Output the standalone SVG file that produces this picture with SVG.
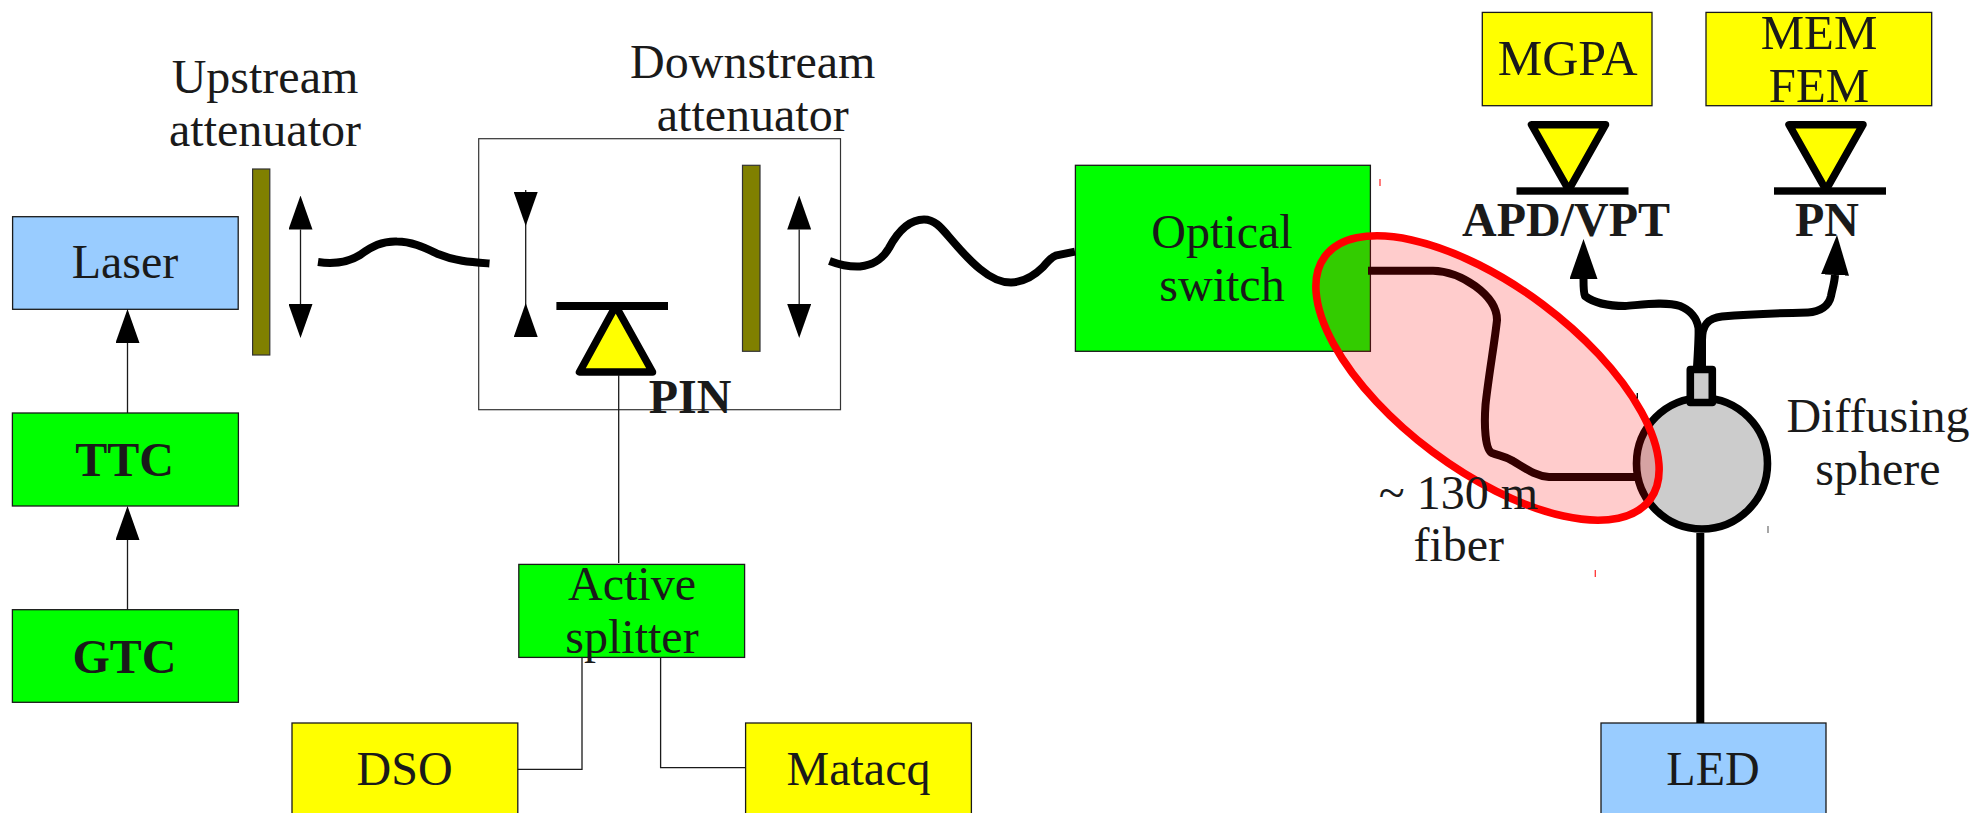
<svg xmlns="http://www.w3.org/2000/svg" width="1978" height="813" viewBox="0 0 1978 813">
<defs>
<style>
text{font-family:"Liberation Serif","Times New Roman",serif;font-size:48px;fill:#1a1a1a;text-anchor:middle}
.b{font-weight:bold}
.big{font-size:50px}
.mid{font-size:48.8px}
.box{stroke:#1a1a1a;stroke-width:1.3}
.blue{fill:#99ccff}.green{fill:#00ff00}.yellow{fill:#ffff00}
.bar{fill:#808000;stroke:#333;stroke-width:1.2}
.thin{fill:none;stroke:#1a1a1a;stroke-width:1.3}
.fib{fill:none;stroke:#000;stroke-width:8}
.pd{fill:#ffff00;stroke:#000;stroke-width:7.5;stroke-linejoin:round}
.pdbar{fill:#000}
.tick{stroke-width:1.3;fill:none}
</style>
<marker id="head" markerUnits="userSpaceOnUse" markerWidth="34" markerHeight="24" refX="0" refY="12" orient="auto-start-reverse" viewBox="0 0 34 24"><path d="M0 0L34 12L0 24Z" fill="#000"/></marker>
<marker id="headIn" markerUnits="userSpaceOnUse" markerWidth="34" markerHeight="24" refX="0" refY="12" orient="auto" viewBox="0 0 34 24"><path d="M0 0L34 12L0 24Z" fill="#000"/></marker>
<marker id="headBack" markerUnits="userSpaceOnUse" markerWidth="34" markerHeight="24" refX="34" refY="12" orient="auto" viewBox="0 0 34 24"><path d="M34 0L0 12L34 24Z" fill="#000"/></marker>
<marker id="bigHead" markerUnits="userSpaceOnUse" markerWidth="40" markerHeight="28" refX="0" refY="14" orient="auto" viewBox="0 0 40 28"><path d="M0 0L40 14L0 28Z" fill="#000"/></marker>
</defs>
<rect width="1978" height="813" fill="#fff"/>
<g id="downstream-box"><rect x="478.7" y="138.7" width="361.8" height="271" fill="none" stroke="#333" stroke-width="1.2"/></g>
<g id="upstream-attenuator"><rect class="bar" x="252.6" y="169" width="17.2" height="186"/><text x="265" y="93">Upstream</text><text x="265" y="145.7">attenuator</text></g>
<g id="downstream-attenuator"><rect class="bar" x="742.5" y="165.3" width="17.5" height="186"/><text x="752.7" y="78.3">Downstream</text><text x="752.7" y="130.7">attenuator</text></g>
<g id="laser"><rect class="box blue" x="12.6" y="216.7" width="225.6" height="92.6"/><text x="125" y="278">Laser</text></g>
<g id="ttc"><rect class="box green" x="12.4" y="413" width="226" height="93"/><text class="b" x="124.5" y="476">TTC</text></g>
<g id="gtc"><rect class="box green" x="12.4" y="609.7" width="226" height="92.6"/><text class="b" x="124.5" y="673">GTC</text></g>
<g id="active-splitter"><rect class="box green" x="518.8" y="564.4" width="225.8" height="93"/><text x="632" y="600">Active</text><text x="632" y="653">splitter</text></g>
<g id="dso"><rect class="box yellow" x="292" y="723" width="225.8" height="100"/><text x="404.6" y="785">DSO</text></g>
<g id="matacq"><rect class="box yellow" x="745.6" y="723" width="225.8" height="100"/><text x="858.5" y="785">Matacq</text></g>
<g id="led"><rect class="box blue" x="1601" y="723" width="225" height="100"/><text x="1713" y="785">LED</text></g>
<g id="optical-switch"><rect class="box green" x="1075.4" y="165.3" width="295" height="186"/><text x="1222" y="248">Optical</text><text x="1222" y="301">switch</text></g>
<g id="mgpa"><rect class="box yellow" x="1482.3" y="12.4" width="169.7" height="93.3"/><text class="big" x="1567.7" y="75">MGPA</text></g>
<g id="mem-fem"><rect class="box yellow" x="1706" y="12.4" width="225.7" height="93.3"/><text class="mid" x="1819" y="49">MEM</text><text class="mid" x="1819" y="101.7">FEM</text></g>
<g id="pin"><path class="pd" d="M615.7 306L579.5 372H652.5Z"/><rect class="pdbar" x="556.4" y="302" width="111.6" height="8"/><text class="b" x="690" y="413">PIN</text></g>
<g id="apd-vpt"><path class="pd" d="M1531.5 124.7H1605.5L1568.7 190Z"/><rect class="pdbar" x="1516.5" y="187.3" width="112" height="7.4"/><text class="b" x="1566" y="235.7">APD/VPT</text></g>
<g id="pn"><path class="pd" d="M1789 124.7H1863L1826 190Z"/><rect class="pdbar" x="1774" y="187.3" width="112" height="7.4"/><text class="b" x="1827" y="235.7">PN</text></g>
<g id="diffusing-sphere"><circle cx="1702" cy="463.5" r="65.5" fill="#cccccc" stroke="#000" stroke-width="7.6"/><rect x="1690.3" y="369.5" width="22" height="33" fill="#cccccc" stroke="#000" stroke-width="7.6" stroke-linejoin="round"/><text x="1878" y="432">Diffusing</text><text x="1878" y="485">sphere</text></g>
<g id="connectors">
<line class="thin" x1="127.5" y1="609.7" x2="127.5" y2="540" marker-end="url(#head)"/>
<line class="thin" x1="127.5" y1="413" x2="127.5" y2="343" marker-end="url(#head)"/>
<line class="thin" x1="300.5" y1="229.5" x2="300.5" y2="304" marker-start="url(#head)" marker-end="url(#head)"/>
<line class="thin" x1="799.2" y1="229.5" x2="799.2" y2="304" marker-start="url(#head)" marker-end="url(#head)"/>
<line class="thin" x1="525.7" y1="192" x2="525.7" y2="337" marker-start="url(#headIn)" marker-end="url(#headBack)"/>
<line class="thin" x1="525.7" y1="190" x2="525.7" y2="192"/>
<path class="thin" stroke="#666" d="M618.7 375V563"/>
<path class="thin" d="M582 657.4V769.3H517.8"/>
<path class="thin" d="M660.6 657.4V767.7H745.6"/>
<path class="fib" d="M318 262C332 264 347 263 360 255C372 246 382 241 397 241.5C412 241.5 425 248 438 254C455 261 470 262 489.5 263.5"/>
<path class="fib" d="M829.5 261C840 265 850 267 860 266.5C873 265 882 260 889 248C897 233 908 219.5 924 219.5C934 219.5 940 226 950 238C962 252 970 261 980 269C992 279 1002 282.6 1011 282.6C1023 282 1034 276 1043 267C1048 261 1052 257 1055.5 255.7L1075 251.7"/>
<path class="fib" d="M1368 270.7H1433C1460 271 1497 295 1497 320C1495 340 1488 380 1485.5 405C1484 425 1485 450 1492 453C1500 456 1505 456 1513 461C1525 468 1535 476 1549 477H1635"/>
<path class="fib" d="M1697 367C1698 350 1699 335 1698.5 328C1697 318 1690 310 1680 306C1665 301 1640 305 1625 306C1610 306 1594 303 1585 296C1584 294 1583.5 291 1583.5 279" marker-end="url(#bigHead)"/>
<path class="fib" d="M1702 367V340C1702 325 1708 318 1722 316.5C1750 314 1785 313 1808 312.5C1820 312 1829 306 1831 296C1832 290 1834.6 283 1835 275" marker-end="url(#bigHead)"/>
<path class="fib" d="M1700.3 533V723"/>
</g>
<g id="fiber-region"><ellipse cx="1487.5" cy="378" rx="203" ry="92" transform="rotate(36.8 1487.5 378)" fill="#ff0000" fill-opacity="0.2" stroke="#ff0000" stroke-width="7.6"/></g>
<g id="fiber-label"><text x="1458.5" y="509">~ 130 m</text><text x="1458.7" y="561">fiber</text></g>
<g id="marks">
<path class="tick" stroke="#ff3333" d="M1380 179V186"/>
<path class="tick" stroke="#000" d="M1637.3 393V398.5"/>
<path class="tick" stroke="#ff3333" d="M1595.3 570V577"/>
<path class="tick" stroke="#777" d="M1768 526V533"/>
</g>
</svg>
